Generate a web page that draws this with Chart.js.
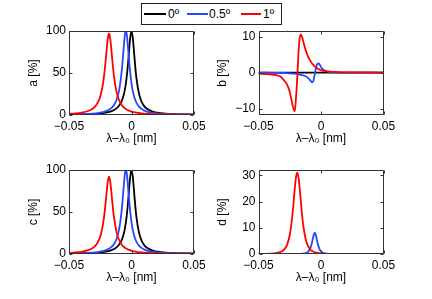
<!DOCTYPE html>
<html lang="en">
<head>
    <meta charset="UTF-8">
    <title>Spectra a-d</title>
    <script src="https://cdn.jsdelivr.net/npm/chart.js"></script>
    <style>
        body {
            margin: 0;
            padding: 0;
            background: #fff;
            font-family: "Liberation Sans", Arial, sans-serif;
        }
        canvas {
            position: absolute;
        }
        #legend {
            position: absolute;
            left: 141px;
            top: 3px;
            width: 139px;
            height: 20px;
            border: 1px solid #222;
            background: #fff;
            font-size: 12px;
            line-height: 20px;
        }
        #legend .ln {
            position: absolute;
            top: 9px;
            height: 2px;
        }
        #legend .tx {
            position: absolute;
            top: 0;
        }
    </style>
</head>
<body>
    <div id="legend">
        <span class="ln" style="left:2px;width:22px;background:#000"></span>
        <span class="tx" style="left:26px">0º</span>
        <span class="ln" style="left:45px;width:21px;background:rgb(40,70,255)"></span>
        <span class="tx" style="left:67px">0.5º</span>
        <span class="ln" style="left:99px;width:20px;background:#f00"></span>
        <span class="tx" style="left:121px">1º</span>
    </div>

    <canvas id="pa" width="216" height="150" style="left:0;top:0"></canvas>
    <canvas id="pb" width="242" height="150" style="left:190px;top:0"></canvas>
    <canvas id="pc" width="216" height="150" style="left:0;top:139px"></canvas>
    <canvas id="pd" width="242" height="150" style="left:190px;top:139px"></canvas>

    <script>
        // wavelength shift λ-λ0 [nm]
        const shift = [-0.05, -0.045, -0.04, -0.036, -0.032, -0.029, -0.027, -0.025, -0.023, -0.022,
            -0.021, -0.020, -0.019, -0.018, -0.017, -0.016, -0.015, -0.014, -0.012, -0.010,
            -0.008, -0.007, -0.006, -0.0055, -0.005, -0.0045, -0.004, -0.0035, -0.003, -0.002,
            -0.001, 0, 0.001, 0.002, 0.003, 0.004, 0.006, 0.008, 0.010, 0.013,
            0.017, 0.022, 0.03, 0.04, 0.05];

        // panel a [%]
        const aBlack = [0.49, 0.6, 0.76, 0.94, 1.18, 1.43, 1.65, 1.92, 2.26, 2.47,
            2.7, 2.97, 3.28, 3.65, 4.07, 4.57, 5.16, 5.88, 7.84, 10.9,
            16.1, 20, 25.4, 28.8, 32.9, 37.7, 43.4, 50, 57.6, 75.4,
            92.5, 100, 92.5, 75.4, 57.6, 43.4, 25.4, 16.1, 10.9, 6.76,
            4.07, 2.47, 1.34, 0.76, 0.49];
        const aBlue = [0.59, 0.74, 0.96, 1.22, 1.59, 2.0, 2.36, 2.83, 3.46, 3.85,
            4.3, 4.85, 5.5, 6.3, 7.27, 8.47, 10, 11.9, 17.9, 28.8,
            50, 66.2, 84.5, 92.5, 98, 100, 98, 92.5, 84.5, 66.2,
            50, 37.7, 28.8, 22.5, 17.9, 14.5, 10, 7.27, 5.5, 3.85,
            2.58, 1.72, 1.02, 0.62, 0.41];
        const aRed = [1.35, 1.88, 2.81, 4.15, 6.66, 10.3, 14.7, 22.1, 35.5, 46,
            59.8, 76, 90.7, 97, 90.7, 76, 59.8, 46, 27.8, 17.9,
            12.2, 10.3, 8.84, 8.2, 7.64, 7.13, 6.66, 6.23, 5.85, 5.19,
            4.62, 4.15, 3.73, 3.38, 3.08, 2.81, 2.37, 2.03, 1.75, 1.44,
            1.13, 0.87, 0.6, 0.41, 0.3];

        // panel b [%]
        const bBlack = [0, 0, 0, 0, 0, 0, 0, 0, 0, 0,
            0, 0, 0, 0, 0, 0, 0, 0, 0, 0,
            0, 0, 0, 0, 0, 0, 0, 0, 0, 0,
            0, 0, 0, 0, 0, 0, 0, 0, 0, 0,
            0, 0, 0, 0, 0];
        const bBlue = [0, 0, -0.05, -0.05, -0.1, -0.1, -0.15, -0.2, -0.25, -0.3,
            -0.3, -0.35, -0.4, -0.45, -0.55, -0.6, -0.7, -0.8, -1.1, -1.6,
            -2.4, -2.7, -2.2, -1.3, -0.5, 0.4, 1.3, 2.0, 2.4, 2.6,
            2.2, 1.6, 1.1, 0.8, 0.6, 0.45, 0.25, 0.15, 0.1, 0.05,
            0, 0, 0, 0, 0];
        const bRed = [-0.3, -0.4, -0.5, -0.7, -1.2, -2.4, -3.4, -5.4, -8.6, -10.0,
            -10.8, -7.0, -1.5, 5.5, 9.8, 10.6, 9.8, 8.4, 6.0, 4.2,
            3.0, 2.5, 2.1, 1.9, 1.75, 1.6, 1.45, 1.3, 1.2, 1.0,
            0.85, 0.7, 0.6, 0.5, 0.45, 0.4, 0.3, 0.25, 0.2, 0.15,
            0.1, 0.1, 0.05, 0.05, 0];

        // panel c [%]
        const cBlack = [0.49, 0.6, 0.76, 0.94, 1.18, 1.43, 1.65, 1.92, 2.26, 2.47,
            2.7, 2.97, 3.28, 3.65, 4.07, 4.57, 5.16, 5.88, 7.84, 10.9,
            16.1, 20, 25.4, 28.8, 32.9, 37.7, 43.4, 50, 57.6, 75.4,
            92.5, 100, 92.5, 75.4, 57.6, 43.4, 25.4, 16.1, 10.9, 6.76,
            4.07, 2.47, 1.34, 0.76, 0.49];
        const cBlue = [0.59, 0.74, 0.96, 1.22, 1.59, 2.0, 2.36, 2.83, 3.46, 3.85,
            4.3, 4.85, 5.5, 6.3, 7.27, 8.47, 10, 11.9, 17.9, 28.8,
            50, 66.2, 84.5, 92.5, 98, 100, 98, 92.5, 84.5, 66.2,
            50, 37.7, 28.8, 22.5, 17.9, 14.5, 10, 7.27, 5.5, 3.85,
            2.58, 1.72, 1.02, 0.62, 0.41];
        const cRed = [1.28, 1.78, 2.66, 3.93, 6.31, 9.76, 13.9, 20.9, 33.7, 43.6,
            56.7, 72, 86, 92, 86, 72, 56.7, 43.6, 26.4, 17,
            11.6, 9.76, 8.38, 7.77, 7.24, 6.76, 6.31, 5.91, 5.55, 4.92,
            4.38, 3.93, 3.54, 3.2, 2.92, 2.66, 2.25, 1.92, 1.66, 1.37,
            1.07, 0.82, 0.57, 0.39, 0.28];

        // panel d [%]
        const dBlack = [0, 0, 0, 0, 0, 0, 0, 0, 0, 0,
            0, 0, 0, 0, 0, 0, 0, 0, 0, 0,
            0, 0, 0, 0, 0, 0, 0, 0, 0, 0,
            0, 0, 0, 0, 0, 0, 0, 0, 0, 0,
            0, 0, 0, 0, 0];
        const dBlue = [0, 0, 0, 0, 0, 0, 0, 0, 0.01, 0.02,
            0.02, 0.03, 0.04, 0.05, 0.06, 0.08, 0.12, 0.17, 0.38, 1.0,
            2.91, 4.8, 6.95, 7.7, 8, 7.7, 6.95, 5.9, 4.8, 2.91,
            1.7, 1.0, 0.61, 0.38, 0.25, 0.17, 0.08, 0.05, 0.03, 0.01,
            0, 0, 0, 0, 0];
        const dRed = [0.04, 0.07, 0.16, 0.34, 0.85, 1.96, 3.68, 7.24, 14.2, 19.3,
            24.8, 29.2, 31, 29.2, 24.8, 19.3, 14.2, 10.2, 5.14, 2.67,
            1.47, 1.11, 0.85, 0.75, 0.66, 0.59, 0.52, 0.47, 0.42, 0.34,
            0.27, 0.23, 0.19, 0.16, 0.13, 0.11, 0.08, 0.06, 0.05, 0.03,
            0.02, 0.01, 0, 0, 0];

        // tick labels
        const xTicks = [-0.05, 0, 0.05];
        const aTicks = [0, 50, 100];
        const bTicks = [-10, 0, 10];
        const cTicks = [0, 50, 100];
        const dTicks = [0, 10, 20, 30];

        Chart.defaults.font.family = '"Liberation Sans", Arial, sans-serif';
        Chart.defaults.font.size = 12;
        Chart.defaults.color = '#000';

        const fmt = v => String(v).replace('-', '\u2212');

        // MATLAB style box with inward ticks
        const frame = {
            id: 'frame',
            afterDatasetsDraw(chart) {
                const { ctx, chartArea: a, scales: { x, y } } = chart;
                const l = Math.round(a.left) + 0.5, r = Math.round(a.right) - 0.5;
                const t = Math.round(a.top) + 0.5, b = Math.round(a.bottom) - 0.5;
                ctx.save();
                ctx.strokeStyle = '#333';
                ctx.lineWidth = 1;
                ctx.beginPath();
                ctx.rect(l, t, r - l, b - t);
                x.ticks.forEach(tk => {
                    const p = Math.round(x.getPixelForValue(tk.value)) + 0.5;
                    ctx.moveTo(p, b); ctx.lineTo(p, b - 3);
                    ctx.moveTo(p, t); ctx.lineTo(p, t + 3);
                });
                y.ticks.forEach(tk => {
                    const p = Math.round(y.getPixelForValue(tk.value)) + 0.5;
                    ctx.moveTo(l, p); ctx.lineTo(l + 3, p);
                    ctx.moveTo(r, p); ctx.lineTo(r - 3, p);
                });
                ctx.stroke();
                ctx.restore();
            }
        };

        function series(vals, color) {
            return {
                data: shift.map((s, i) => ({ x: s, y: vals[i] })),
                borderColor: color,
                borderWidth: 1.8,
                pointRadius: 0,
                fill: false,
                cubicInterpolationMode: 'monotone'
            };
        }

        function panel(id, label, black, blue, red, yMin, yMax, yTicks, yWidth, padRight, titlePad) {
            new Chart(document.getElementById(id), {
                type: 'line',
                data: {
                    datasets: [series(red, '#f00'), series(blue, 'rgb(40,70,255)'), series(black, '#000')]
                },
                options: {
                    responsive: false,
                    animation: false,
                    devicePixelRatio: 1,
                    layout: { padding: { top: 31, right: padRight, left: 0, bottom: 0 } },
                    plugins: { legend: { display: false }, tooltip: { enabled: false } },
                    scales: {
                        x: {
                            type: 'linear',
                            min: -0.05,
                            max: 0.05,
                            afterBuildTicks: s => { s.ticks = xTicks.map(v => ({ value: v })); },
                            afterFit: s => { s.height = 35; },
                            grid: { display: false, drawTicks: false },
                            border: { display: false },
                            ticks: { padding: 4, maxRotation: 0, callback: v => fmt(v) },
                            title: { display: true, text: 'λ\u2013λ₀ [nm]', padding: { top: 0, bottom: 4 } }
                        },
                        y: {
                            min: yMin,
                            max: yMax,
                            afterBuildTicks: s => { s.ticks = yTicks.map(v => ({ value: v })); },
                            afterFit: s => { s.width = yWidth; },
                            grid: { display: false, drawTicks: false },
                            border: { display: false },
                            ticks: { padding: 3, callback: v => fmt(v) },
                            title: { display: true, text: label, padding: { top: titlePad, bottom: 0 } }
                        }
                    }
                },
                plugins: [frame]
            });
        }

        panel('pa', 'a [%]', aBlack, aBlue, aRed, 0, 100, aTicks, 69, 22, 26);
        panel('pb', 'b [%]', bBlack, bBlue, bRed, -11.8, 11.6, bTicks, 68.5, 48.5, 25.5);
        panel('pc', 'c [%]', cBlack, cBlue, cRed, 0, 100, cTicks, 69, 22, 26);
        panel('pd', 'd [%]', dBlack, dBlue, dRed, 0, 32, dTicks, 68.5, 48.5, 25.5);
    </script>
</body>
</html>
